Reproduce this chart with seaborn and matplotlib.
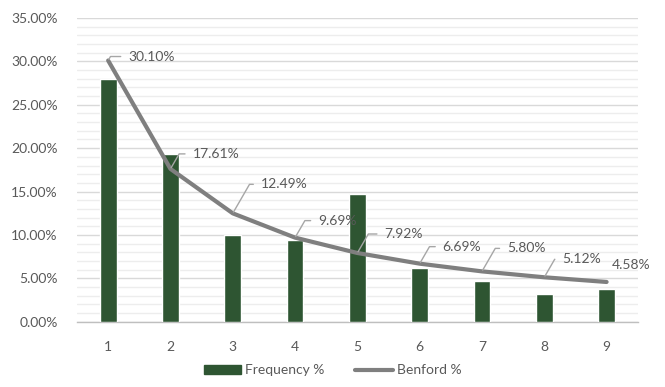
import numpy as np
import pandas as pd
import matplotlib
matplotlib.use("Agg")
import matplotlib.pyplot as plt
import seaborn as sns
from matplotlib.ticker import MultipleLocator, FuncFormatter
from matplotlib.patches import Patch
from matplotlib.lines import Line2D

# First-digit distribution: observed frequency vs. Benford's law
digits = ["1", "2", "3", "4", "5", "6", "7", "8", "9"]
frequency_pct = [28.0, 19.3, 10.0, 9.4, 14.7, 6.2, 4.7, 3.2, 3.8]
benford_pct = [30.10, 17.61, 12.49, 9.69, 7.92, 6.69, 5.80, 5.12, 4.58]

# label placement (pixel offsets from each line point)
label_offsets = [(20, 4), (22, 15), (28, 29), (23, 17), (27, 19),
                 (23, 17), (25, 23), (18, 18), (5, 17)]

sns.set_theme(style="white")
plt.rcParams["font.family"] = ["Lato", "DejaVu Sans"]

BAR = "#2E5532"
LINE = "#7F7F7F"
TXT = "#595959"

df = pd.DataFrame({"digit": digits, "freq": frequency_pct, "benford": benford_pct})
df["pos"] = np.arange(len(df))

fig = plt.figure(figsize=(6.65, 3.87), dpi=100)
ax = fig.add_axes([0.1158, 0.1687, 0.8432, 0.7848])

sns.barplot(data=df, x="digit", y="freq", color=BAR, width=0.27,
            saturation=1, ax=ax, zorder=3)
sns.lineplot(data=df, x="pos", y="benford", color=LINE, linewidth=3.0,
             ax=ax, zorder=4, solid_capstyle="round")

for (_, row), (dx, dy) in zip(df.iterrows(), label_offsets):
    arrow = None
    if row["digit"] != "9":
        arrow = dict(arrowstyle="-", color="#A6A6A6", lw=1.0,
                     shrinkA=3, shrinkB=1, relpos=(0, 0.5),
                     connectionstyle="angle,angleA=0,angleB=60,rad=0")
    ax.annotate(f"{row['benford']:.2f}%", xy=(row["pos"], row["benford"]),
                xytext=(dx, dy), textcoords="offset pixels",
                ha="left", va="center", fontsize=10, color=TXT,
                arrowprops=arrow, zorder=5)

ax.set_ylim(0, 35)
ax.set_xlim(-0.5, len(digits) - 0.5)
ax.yaxis.set_major_locator(MultipleLocator(5))
ax.yaxis.set_minor_locator(MultipleLocator(1))
ax.yaxis.set_major_formatter(FuncFormatter(lambda v, p: f"{v:.2f}%"))
ax.grid(axis="y", which="major", color="#D9D9D9", linewidth=1.0, zorder=0)
ax.grid(axis="y", which="minor", color="#EDEDED", linewidth=1.0, zorder=0)
ax.set_axisbelow(True)

ax.set_xticks(np.arange(-0.5, len(digits)), minor=True)
ax.tick_params(axis="x", which="minor", length=5, width=1, color="#BFBFBF",
               direction="out")
ax.tick_params(axis="x", which="major", length=0, pad=14, labelsize=10,
               labelcolor=TXT)
ax.tick_params(axis="y", which="both", length=0, pad=14, labelsize=10,
               labelcolor=TXT)

for side in ["left", "right", "top"]:
    ax.spines[side].set_visible(False)
ax.spines["bottom"].set_color("#BFBFBF")
ax.spines["bottom"].set_linewidth(1.0)
ax.set_xlabel("")
ax.set_ylabel("")
if ax.get_legend() is not None:
    ax.get_legend().remove()

handles = [Patch(facecolor=BAR, edgecolor=BAR),
           Line2D([0], [0], color=LINE, linewidth=3.0, solid_capstyle="round")]
fig.legend(handles, ["Frequency %", "Benford %"], loc="lower center",
           bbox_to_anchor=(0.5, -0.005), ncol=2, frameon=False, fontsize=10,
           labelcolor=TXT, handlelength=2.7, handleheight=0.7,
           handletextpad=0.3, columnspacing=2.2)

fig.savefig("out.png", dpi=100)
